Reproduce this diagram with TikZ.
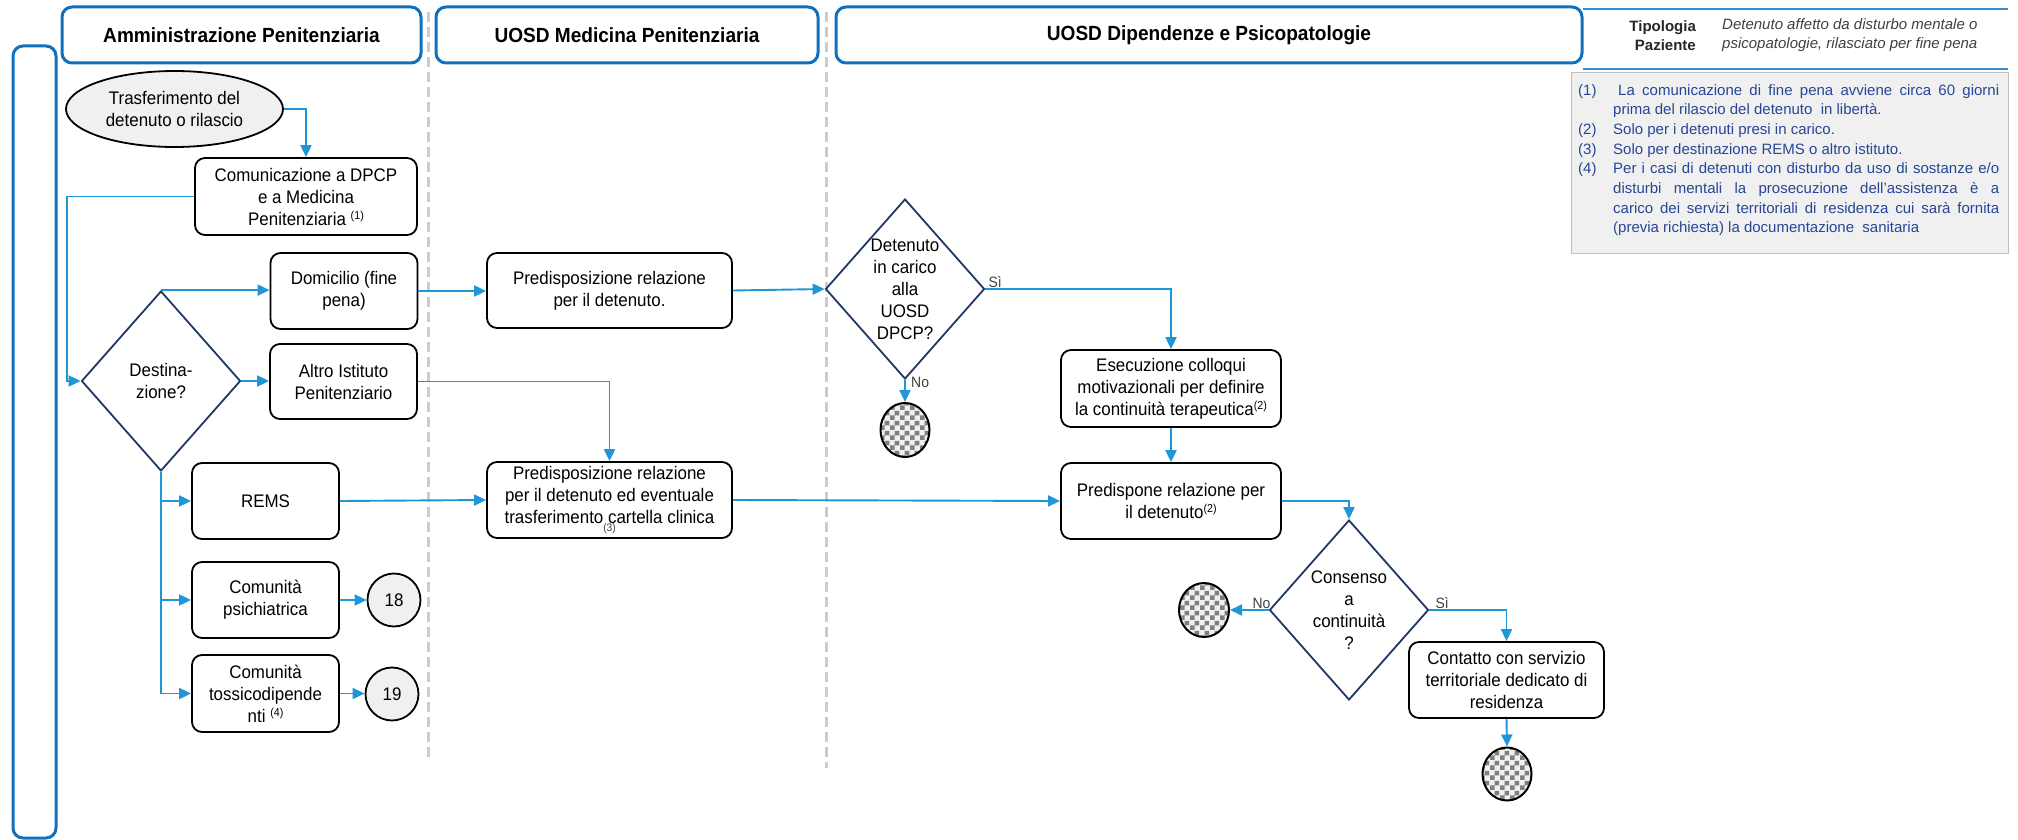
\documentclass[tikz,border=0pt]{standalone}
\usepackage{fontspec}
\setmainfont{Liberation Sans}
\newfontfamily\narrowsans{Liberation Sans}[FakeStretch=0.93]
\usetikzlibrary{shapes.geometric,arrows.meta,patterns}

\definecolor{laneblue}{RGB}{16,112,192}
\definecolor{flowblue}{RGB}{30,150,215}
\definecolor{navy}{RGB}{32,56,100}
\definecolor{sepgray}{RGB}{205,205,205}
\definecolor{notebg}{RGB}{240,240,240}
\definecolor{noteline}{RGB}{191,191,191}
\definecolor{notetext}{RGB}{40,70,152}
\definecolor{softblack}{RGB}{64,64,64}
\definecolor{tipblue}{RGB}{52,140,212}

% checkered fill of the end markers
\pgfdeclarepatternformonly{endcheck}{\pgfpointorigin}{\pgfqpoint{10pt}{10pt}}{\pgfqpoint{10pt}{10pt}}{%
  \pgfpathrectangle{\pgfpointorigin}{\pgfqpoint{5pt}{5pt}}%
  \pgfpathrectangle{\pgfqpoint{5pt}{5pt}}{\pgfqpoint{5pt}{5pt}}%
  \pgfusepath{fill}}

\newcommand\bodyfs{\narrowsans\fontsize{18.2}{22}\selectfont}
\newcommand\headfs{\narrowsans\fontsize{20.5}{22}\selectfont\bfseries}
\newcommand\notefs{\fontsize{15}{19.7}\selectfont}
\newcommand\fnref[1]{\raisebox{6pt}{\fontsize{11.5}{11.5}\selectfont #1}}
\newcommand\noteitem[1]{\noindent\hangindent=35pt\hangafter=1\makebox[35pt][l]{#1}}

\tikzset{
  lane/.style={draw=laneblue, line width=3pt, rounded corners=10pt, inner sep=0pt},
  header/.style={lane, font=\headfs, text=black, minimum height=56pt},
  proc/.style={draw=black, line width=1.8pt, rounded corners=10pt, fill=white,
    align=center, font=\bodyfs, inner sep=0pt},
  decision/.style={diamond, draw=navy, line width=1.8pt, fill=white, inner sep=0pt,
    minimum width=159pt, minimum height=180pt},
  dtext/.style={align=center, font=\bodyfs, inner sep=0pt},
  startnode/.style={ellipse, draw=black, line width=1.8pt, fill=notebg, align=center,
    font=\bodyfs, inner sep=0pt},
  linknode/.style={ellipse, draw=black, line width=1.8pt, fill=notebg, font=\bodyfs,
    inner sep=0pt, minimum width=53pt, minimum height=53pt},
  endnode/.style={ellipse, draw=black, line width=2pt, preaction={fill=notebg},
    pattern=endcheck, pattern color=black!50, inner sep=0pt,
    minimum width=49pt, minimum height=54pt},
  flow/.style={draw=flowblue, line width=1.9pt},
  arr/.style={flow, -{Triangle[length=12pt,width=11pt]}},
  lbl/.style={font=\narrowsans\fontsize{15}{15}\selectfont, text=softblack, inner sep=1pt},
  sep/.style={draw=sepgray, line width=3pt, dash pattern=on 10pt off 5pt},
  tipline/.style={draw=tipblue, line width=2pt},
  notebox/.style={draw=noteline, line width=0.8pt, fill=notebg, inner sep=0pt},
  notetxt/.style={text width=421pt, align=justify, font=\notefs, text=notetext, inner sep=0pt},
}

\begin{document}
\begin{tikzpicture}[x=1pt,y=-1pt]
\useasboundingbox (0,0) rectangle (2018,840);

% lane separators
\draw[sep] (428,12) -- (428,760);
\draw[sep] (826,12) -- (826,768);

% lane headers and side bar
\node[lane, minimum width=43pt, minimum height=792pt] (bar) at (34.5,442) {};
\node[header, minimum width=359pt] (h1) at (241.5,35) {Amministrazione Penitenziaria};
\node[header, minimum width=382pt] (h2) at (627,35) {UOSD Medicina Penitenziaria};
\node[header, minimum width=746pt] (h3) at (1209,35) {UOSD Dipendenze e Psicopatologie};

% patient type
\draw[tipline] (1583,9) -- (2008,9);
\draw[tipline] (1583,69) -- (2008,69);
\node[anchor=east, align=right, inner sep=0pt, font=\fontsize{15}{19}\selectfont\bfseries,
  text=black!85] (tip) at (1696,35.5) {Tipologia\\Paziente};
\node[anchor=west, align=left, inner sep=0pt, font=\fontsize{15}{19}\selectfont\itshape,
  text=softblack] (tipd) at (1722,35.5)
  {Detenuto affetto da disturbo mentale o\\psicopatologie, rilasciato per fine pena};

% notes
\node[notebox, minimum width=437pt, minimum height=181pt] (notes) at (1789.5,162.5) {};
\node[notetxt, anchor=north west] (notestxt) at (1578,84) {%
  \hyphenpenalty=10000 \exhyphenpenalty=10000
  \noteitem{(1)}\hspace{5pt}La comunicazione di fine pena avviene circa 60 giorni\linebreak
  prima del rilascio del detenuto\ \ in libertà.\par
  \noteitem{(2)}Solo per i detenuti presi in carico.\par
  \noteitem{(3)}Solo per destinazione REMS o altro istituto.\par
  \noteitem{(4)}Per i casi di detenuti con disturbo da uso di sostanze e/o\linebreak
  disturbi mentali la prosecuzione dell’assistenza è a\linebreak
  carico dei servizi territoriali di residenza cui sarà fornita\linebreak
  (previa richiesta) la documentazione\ \ sanitaria\par};

% Amministrazione Penitenziaria
\node[startnode, minimum width=217pt, minimum height=76pt] (ell) at (174.5,109)
  {Trasferimento del\\detenuto o rilascio};
\node[proc, minimum width=222pt, minimum height=77pt] (com) at (306,196.5)
  {Comunicazione a DPCP\\e a Medicina\\Penitenziaria \fnref{(1)}};
\node[decision] (d1) at (161,381) {};
\node[dtext] (d1t) at (d1.center) {Destina-\\zione?};
\node[proc, minimum width=147pt, minimum height=76pt] (dom) at (344,291) {Domicilio (fine\\pena)};
\node[proc, minimum width=147pt, minimum height=75pt] (alt) at (343.5,381.5) {Altro Istituto\\Penitenziario};
\node[proc, minimum width=147pt, minimum height=76pt] (rems) at (265.5,501) {REMS};
\node[proc, minimum width=147pt, minimum height=76pt] (psi) at (265.5,600) {Comunità\\psichiatrica};
\node[proc, minimum width=147pt, minimum height=77pt] (tos) at (265.5,693.5)
  {Comunità\\tossicodipende\\nti \fnref{(4)}};
\node[linknode] (c18) at (394,600) {18};
\node[linknode] (c19) at (392,694) {19};

% UOSD Medicina Penitenziaria
\node[proc, minimum width=245pt, minimum height=75pt] (pr1) at (609.5,290.5)
  {Predisposizione relazione\\per il detenuto.};
\node[proc, minimum width=245pt, minimum height=76pt] (pr2) at (609.5,500)
  {Predisposizione relazione\\per il detenuto ed eventuale\\trasferimento cartella clinica\rule[-11pt]{0pt}{0pt}};
\node[inner sep=0pt, font=\narrowsans\fontsize{11}{11}\selectfont, text=softblack] (pr2n) at (609.5,529) {(3)};

% UOSD Dipendenze e Psicopatologie
\node[decision] (d2) at (905,289) {};
\node[dtext] (d2t) at (d2.center) {Detenuto\\in carico\\alla\\UOSD\\DPCP?};
\node[endnode] (e1) at (905,430) {};
\node[proc, minimum width=220pt, minimum height=77pt] (ese) at (1171,388.5)
  {Esecuzione colloqui\\motivazionali per definire\\la continuità terapeutica\fnref{(2)}};
\node[proc, minimum width=220pt, minimum height=76pt] (prd) at (1171,501)
  {Predispone relazione per\\il detenuto\fnref{(2)}};
\node[decision] (d3) at (1349,610) {};
\node[dtext] (d3t) at (d3.center) {Consenso\\a\\continuità\\?};
\node[endnode, minimum width=50pt] (e2) at (1204,610) {};
\node[proc, minimum width=195pt, minimum height=76pt] (con) at (1506.5,680)
  {Contatto con servizio\\territoriale dedicato di\\residenza};
\node[endnode, minimum height=53pt] (e3) at (1507,774) {};

% connectors
\coordinate (jl) at (67,197);
\draw[arr] (ell.east) -| (com.north);
\draw[arr] (com.west) -- (com.west -| jl) |- (d1.west);
\draw[arr] (d1.north) -- (d1.north -| dom.west);
\draw[arr] (d1.east) -- (d1.east -| alt.west);
\draw[arr] (d1.south) |- (rems.west);
\draw[arr] (d1.south) |- (psi.west);
\draw[arr] (d1.south) |- (tos.west);
\draw[arr] (psi.east) -- (psi.east -| c18.west);
\draw[arr] (tos.east) -- (tos.east -| c19.west);
\draw[arr] (dom.east) -- (dom.east -| pr1.west);
\draw[arr] (pr1.east) -- (d2.west);
\draw[arr] (alt.east) -| (pr2.north);
\draw[arr] (rems.east) -- (pr2.west);
\draw[arr] (pr2.east) -- (prd.west);
\draw[arr] (d2.east) -| (ese.north);
\draw[arr] (d2.south) -- (e1.north);
\draw[arr] (ese.south) -- (prd.north);
\draw[arr] (prd.east) -| (d3.north);
\draw[arr] (d3.west) -- (e2.east);
\draw[arr] (d3.east) -| (con.north);
\draw[arr] (con.south) -- (e3.north);

% branch labels
\node[lbl, anchor=south west] (d2yes) at ([xshift=2pt]d2.east) {Sì};
\node[lbl, anchor=west] (d2no) at ([xshift=5pt,yshift=-3pt]d2.south) {No};
\node[lbl, anchor=south east] (d3no) at ([xshift=3pt]d3.west) {No};
\node[lbl, anchor=south west] (d3yes) at ([xshift=5pt]d3.east) {Sì};
\end{tikzpicture}
\end{document}
